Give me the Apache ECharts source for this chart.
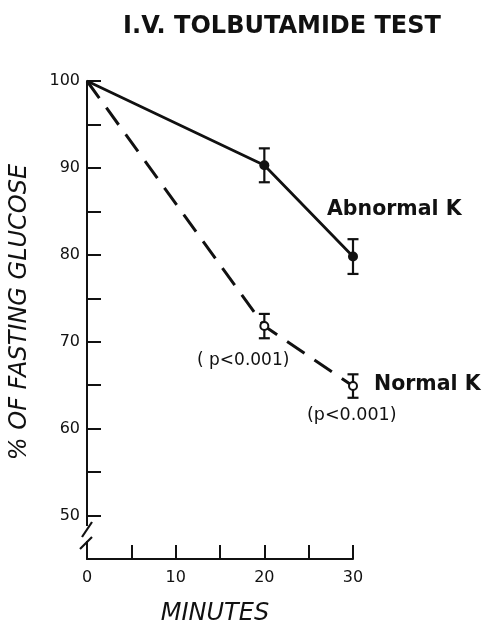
<!DOCTYPE html>
<html>
<head>
<meta charset="utf-8">
<script src="https://cdn.jsdelivr.net/npm/echarts@6/dist/echarts.min.js"></script>
<style>
html,body{margin:0;padding:0;background:#fff;}
#chart{width:484px;height:620px;}
</style>
</head>
<body>
<div id="chart"></div>
<script>
// ---- data ----
const minutes = [0, 20, 30];
const abnormalK = [100, 90.3, 79.8];
const abnormalErr = [null, 1.95, 2.0];
const normalK = [100, 71.8, 64.9];
const normalErr = [null, 1.4, 1.35];
const xTickLabels = ['0', '10', '20', '30'];
const yTickLabels = ['50', '60', '70', '80', '90', '100'];

const INK = '#111';
const chart = echarts.init(document.getElementById('chart'));

function lineData(vals) {
  return minutes.map((m, i) => i === 0 ? {value: [m, vals[i]], symbol: 'none'} : [m, vals[i]]);
}
function errData(vals, errs) {
  const out = [];
  minutes.forEach((m, i) => { if (errs[i] != null) out.push([m, vals[i] - errs[i], vals[i] + errs[i]]); });
  return out;
}
function errRender(params, api) {
  const x = api.value(0), lo = api.value(1), hi = api.value(2);
  const pt = api.coord([x, hi]), pb = api.coord([x, lo]);
  const h = 5.5;
  const st = {stroke: INK, lineWidth: 2.2};
  return {type: 'group', children: [
    {type: 'line', shape: {x1: pt[0], y1: pt[1], x2: pb[0], y2: pb[1]}, style: st},
    {type: 'line', shape: {x1: pt[0] - h, y1: pt[1], x2: pt[0] + h, y2: pt[1]}, style: st},
    {type: 'line', shape: {x1: pb[0] - h, y1: pb[1], x2: pb[0] + h, y2: pb[1]}, style: st}
  ]};
}

const option = {
  backgroundColor: '#fff',
  animation: false,
  title: {
    text: 'I.V. TOLBUTAMIDE TEST',
    left: 277, top: 10, textAlign: 'center',
    textStyle: {fontFamily: 'DejaVu Sans', fontSize: 24, fontWeight: 'bold', color: INK}
  },
  grid: {left: 87, right: 131, top: 81, bottom: 61, containLabel: false, outerBoundsMode: 'none'},
  xAxis: {
    type: 'value', min: 0, max: 30, interval: 5,
    axisLine: {lineStyle: {color: INK, width: 2}},
    axisTick: {inside: true, length: 14, lineStyle: {color: INK, width: 2}},
    axisLabel: {
      margin: 11, fontFamily: 'DejaVu Sans', fontSize: 16, color: INK,
      formatter: v => (v % 10 === 0 ? xTickLabels[v / 10] : '')
    },
    splitLine: {show: false}
  },
  yAxis: {
    type: 'value', min: 45, max: 100, interval: 5,
    axisLine: {lineStyle: {color: INK, width: 2}},
    axisTick: {inside: true, length: 14, lineStyle: {color: INK, width: 2}},
    axisLabel: {
      margin: 7, fontFamily: 'DejaVu Sans', fontSize: 16, color: INK,
      formatter: v => (v >= 50 && v % 10 === 0 ? yTickLabels[(v - 50) / 10] : '')
    },
    splitLine: {show: false}
  },
  series: [
    {
      name: 'Abnormal K', type: 'line', data: lineData(abnormalK),
      symbol: 'circle', symbolSize: 10,
      lineStyle: {color: INK, width: 2.8},
      itemStyle: {color: INK}, z: 3
    },
    {
      name: 'Normal K', type: 'line', data: lineData(normalK),
      symbol: 'circle', symbolSize: 8,
      lineStyle: {color: INK, width: 3, type: [21, 12]},
      itemStyle: {color: '#fff', borderColor: INK, borderWidth: 2}, z: 3
    },
    {type: 'custom', data: errData(abnormalK, abnormalErr), renderItem: errRender, z: 2},
    {type: 'custom', data: errData(normalK, normalErr), renderItem: errRender, z: 2}
  ]
};
chart.setOption(option);

// decorations: axis break, axis names and annotations
const base = chart.convertToPixel({gridIndex: 0}, [0, 45]);
const ax = base[0], ay = base[1];
const txt = (x, y, s, font) => ({
  type: 'text', x: x, y: y,
  style: {text: s, fill: INK, font: font, textVerticalAlign: 'middle', verticalAlign: 'middle'}
});
chart.setOption({
  graphic: [
    {type: 'rect', shape: {x: ax - 4, y: ay - 33, width: 8, height: 15}, style: {fill: '#fff'}, z: 100},
    {type: 'line', shape: {x1: ax + 5, y1: ay - 37, x2: ax - 5, y2: ay - 22}, style: {stroke: INK, lineWidth: 2.2}, z: 101},
    {type: 'line', shape: {x1: ax + 5, y1: ay - 22, x2: ax - 7, y2: ay - 10}, style: {stroke: INK, lineWidth: 2.2}, z: 101},
    {
      type: 'text', x: 20, y: 312, rotation: Math.PI / 2,
      style: {text: '% OF FASTING GLUCOSE', fill: INK, font: 'italic 24px "DejaVu Sans"',
              align: 'center', verticalAlign: 'middle'}
    },
    {
      type: 'text', x: 215, y: 614,
      style: {text: 'MINUTES', fill: INK, font: 'italic 24px "DejaVu Sans"',
              align: 'center', verticalAlign: 'middle'}
    },
    txt(327, 210, 'Abnormal K', 'bold 20.5px "DejaVu Sans"'),
    txt(374, 385, 'Normal K', 'bold 20.5px "DejaVu Sans"'),
    txt(197, 361, '( p<0.001)', '17px "DejaVu Sans"'),
    txt(307, 415, '(p<0.001)', '17.5px "DejaVu Sans"')
  ]
});
</script>
</body>
</html>
